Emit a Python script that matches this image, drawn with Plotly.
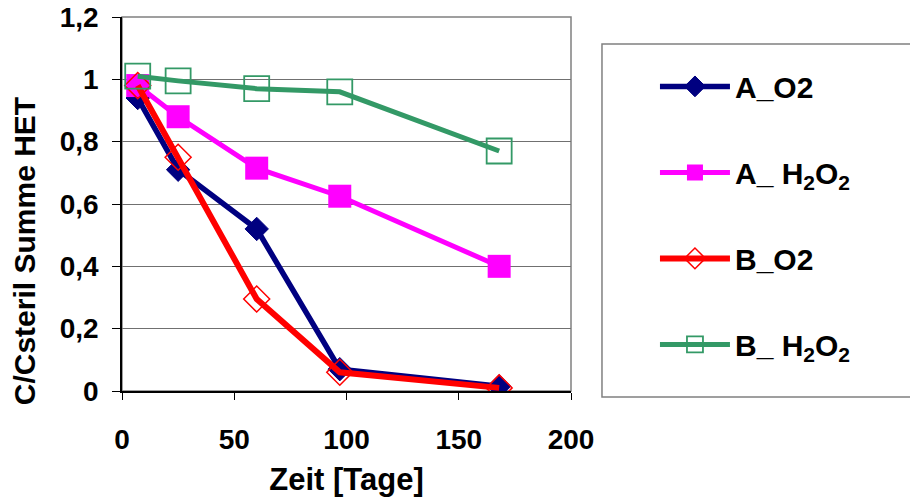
import plotly.graph_objects as go

# Sampling days and normalised concentrations C/Csteril (sum of HET)
days = [7, 25, 60, 97, 168]
a_o2 = [0.94, 0.71, 0.52, 0.07, 0.015]
a_h2o2 = [0.98, 0.88, 0.715, 0.625, 0.40]
b_o2 = [0.98, 0.75, 0.295, 0.06, 0.01]
b_h2o2 = [1.01, 0.995, 0.97, 0.96, 0.77]

series_names = ["A_O2", "A_ H<sub>2</sub>O<sub>2</sub>", "B_O2", "B_ H<sub>2</sub>O<sub>2</sub>"]
x_ticks = [0, 50, 100, 150, 200]
y_ticks = [0, 0.2, 0.4, 0.6, 0.8, 1.0, 1.2]

FONT = "Liberation Sans, Arial, sans-serif"


def bold(size):
    return dict(family=FONT, size=size, color="black", weight="bold")


styles = [
    dict(line=dict(color="#000080", width=5.5),
         marker=dict(symbol="diamond", size=18, color="#000080",
                     line=dict(color="#000080", width=1))),
    dict(line=dict(color="#FF00FF", width=5),
         marker=dict(symbol="square", size=23, color="#FF00FF",
                     line=dict(color="#FF00FF", width=0))),
    dict(line=dict(color="#FF0000", width=6),
         marker=dict(symbol="diamond-open", size=20, color="#FF0000",
                     line=dict(color="#FF0000", width=1.5))),
    dict(line=dict(color="#339966", width=5),
         marker=dict(symbol="square-open", size=25, color="#339966",
                     line=dict(color="#339966", width=1.8))),
]

fig = go.Figure()
for name, vals, st in zip(series_names, [a_o2, a_h2o2, b_o2, b_h2o2], styles):
    fig.add_trace(go.Scatter(
        x=days, y=vals, mode="lines+markers", name=name,
        legendgroup=name, line=st["line"], marker=st["marker"],
    ))

fig.update_layout(
    width=910, height=497,
    margin=dict(l=122, r=339, t=17, b=106, autoexpand=False),
    paper_bgcolor="white", plot_bgcolor="white",
    separators=", ",
    font=bold(28),
    showlegend=True,
    legend=dict(
        x=1.187, y=0.884, xanchor="left", yanchor="top",
        traceorder="grouped", tracegroupgap=44,
        itemwidth=70, itemsizing="trace",
        font=bold(30),
        bgcolor="rgba(0,0,0,0)", borderwidth=0,
    ),
    xaxis=dict(
        range=[0, 200], tickvals=x_ticks, showgrid=False, zeroline=False,
        showline=True, linecolor="black", linewidth=1.5, automargin=False,
        ticks="outside", ticklen=7, tickcolor="black", tickwidth=1,
        ticklabelstandoff=16,
        tickfont=bold(28),
        title=dict(text="Zeit [Tage]", standoff=23, font=bold(31)),
    ),
    yaxis=dict(
        range=[0, 1.2], tickvals=y_ticks, showgrid=True, gridcolor="#707070",
        gridwidth=1, zeroline=False, automargin=False,
        showline=True, linecolor="black", linewidth=1.5,
        ticks="outside", ticklen=8, tickcolor="black", tickwidth=1,
        ticklabelstandoff=8,
        tickfont=bold(28),
    ),
    shapes=[
        # plot area frame
        dict(type="rect", xref="x domain", yref="y domain", x0=0, x1=1, y0=0, y1=1,
             line=dict(color="#808080", width=1.5), layer="below"),
        # legend frame
        dict(type="rect", xref="paper", yref="paper", x0=1.069, x1=1.765, y0=-0.016, y1=0.928,
             line=dict(color="#808080", width=1.5), layer="below"),
    ],
    annotations=[
        dict(text="C/Csteril Summe HET", xref="paper", yref="paper", x=-0.218, y=0.374,
             xanchor="center", yanchor="middle", textangle=-90, showarrow=False,
             font=bold(30)),
    ],
)

fig.write_html("out.html")
